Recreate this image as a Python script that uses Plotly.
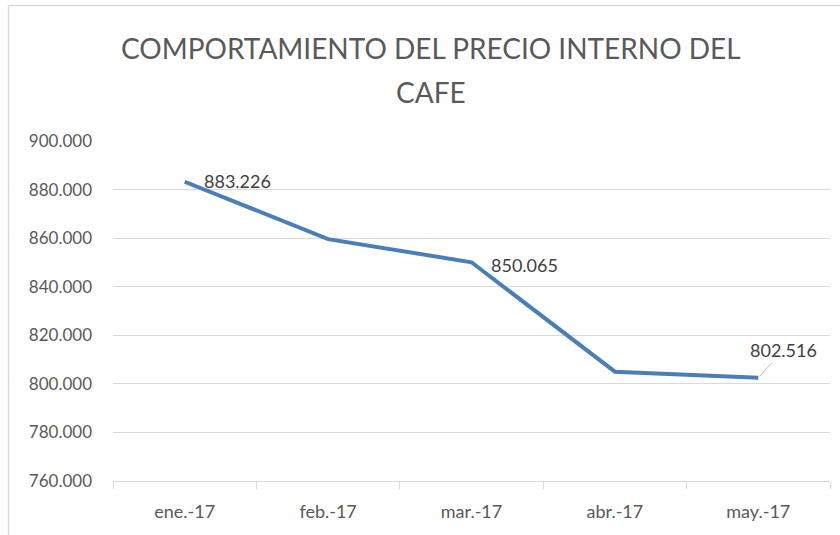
import plotly.graph_objects as go

categories = ["ene.-17", "feb.-17", "mar.-17", "abr.-17", "may.-17"]
prices = [883226, 859600, 850065, 805000, 802516]
labelled = [0, 2, 4]  # indices with data labels
y_ticks = [760000, 780000, 800000, 820000, 840000, 860000, 880000, 900000]
title_lines = ["COMPORTAMIENTO DEL PRECIO INTERNO DEL", "CAFE"]

FONT = "Lato, Calibri, Carlito, sans-serif"

fig = go.Figure()
fig.add_trace(go.Scatter(
    x=categories, y=prices, mode="lines",
    line=dict(color="#4a7ebb", width=4),
    hoverinfo="x+y", showlegend=False,
))

def fmt(v):
    return f"{v:,}".replace(",", ".")

# data labels: (xshift, yshift) in pixels
offsets = {0: (17, 1), 2: (17, -3)}
for i in labelled:
    if i in offsets:
        xs, ys = offsets[i]
        fig.add_annotation(
            x=categories[i], y=prices[i], text=fmt(prices[i]),
            showarrow=False, xshift=xs, yshift=ys,
            xanchor="left", yanchor="middle",
            font=dict(family=FONT, size=18, color="#404040"),
        )
    else:
        fig.add_annotation(
            x=categories[i], y=prices[i], text=fmt(prices[i]),
            showarrow=True, arrowhead=0, arrowwidth=1, arrowcolor="#bfbfbf",
            ax=25, ay=-28, standoff=2, startstandoff=0,
            xanchor="center", yanchor="middle",
            font=dict(family=FONT, size=18, color="#404040"),
        )

# title lines
for k, (txt, ypx) in enumerate(zip(title_lines, [48, 92])):
    fig.add_annotation(
        xref="paper", yref="paper",
        x=(431 - 113) / 717, y=(481 - ypx) / 340,
        text=txt, showarrow=False, xanchor="center", yanchor="middle",
        font=dict(family=FONT, size=28, color="#595959"),
    )

# chart-area border (Excel style)
fig.add_shape(type="rect", xref="paper", yref="paper",
              x0=(8.5 - 113) / 717, x1=1.2, y0=-0.3, y1=(481 - 5.5) / 340,
              line=dict(color="#d9d9d9", width=1.5), fillcolor="rgba(0,0,0,0)", layer="below")

fig.update_layout(
    width=840, height=535,
    margin=dict(l=113, r=10, t=141, b=54),
    paper_bgcolor="white", plot_bgcolor="white",
    separators=",.",
    font=dict(family=FONT, color="#595959"),
)
fig.update_yaxes(
    range=[760000, 900000], tickvals=y_ticks, tickformat=",d",
    showgrid=True, gridcolor="#d9d9d9", gridwidth=1,
    zeroline=False, showline=False, ticks="",
    tickfont=dict(family=FONT, size=17, color="#595959"),
    ticklabelstandoff=20,
)
fig.update_xaxes(
    showgrid=False, showline=True, linecolor="#d9d9d9", linewidth=1,
    ticks="outside", tickson="boundaries", ticklen=7, tickcolor="#d9d9d9",
    tickfont=dict(family=FONT, size=18, color="#595959"),
    ticklabelstandoff=14,
    range=[-0.5, 4.5],
)

fig.write_html("out.html")
